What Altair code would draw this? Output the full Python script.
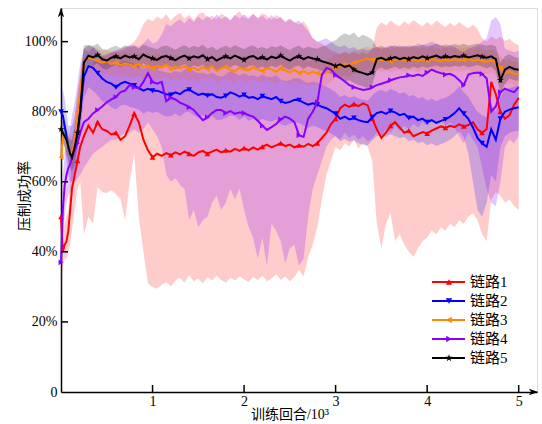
import altair as alt
import pandas as pd

# ---------------- data (training episodes in thousands, success rate in %) ----------------
X_EARLY = [0, 0.02, 0.04, 0.06, 0.08, 0.10, 0.12, 0.15, 0.18, 0.21, 0.25]
X_MAIN = [round(0.30 + 0.05 * i, 2) for i in range(95)]
EPISODES = X_EARLY + X_MAIN

NAMES = ["链路1", "链路2", "链路3", "链路4", "链路5"]

RED_MEAN = [50, 40, 42, 43, 46, 52, 58, 62, 66, 70, 73,
            76, 74, 77, 75, 74.5, 73.5, 74, 72, 73, 76,
            79.5, 77, 72, 69, 67, 68, 67.4, 68.2, 67.6, 68.4,
            67.8, 68.6, 68, 67.4, 68.4, 68.8, 68, 68.6, 69.2, 68.4,
            69, 68.6, 69.4, 68.8, 69.6, 69, 69.8, 69.2, 70, 70.6,
            69.8, 70.4, 71, 70.2, 70.6, 69.8, 70.4, 70, 70.8, 70.2,
            71, 72.5, 74, 76.5, 78, 81, 82, 81.4, 82.2, 81.6,
            82.4, 81.8, 78, 75, 72.5, 74, 76, 77, 75.5, 74,
            74.6, 73, 73.6, 74.2, 73.8, 74.6, 75.2, 75.8, 75.4, 76,
            75.6, 76.4, 75.8, 76.2, 77, 75, 74, 75, 88.5, 85,
            80, 78, 79, 82, 84]
RED_LO = [25, 36, 38, 38, 40, 42, 46, 52, 58, 60, 45,
          50, 48, 58.5, 57, 56.8, 57.6, 56.5, 55, 49, 60,
          68, 50, 40, 31, 30, 29.5, 30.6, 31.4, 30.2, 31.8,
          32.6, 31.2, 33.4, 31.6, 32.4, 31, 32.8, 31.8, 33.2, 32,
          31.2, 32.6, 31.8, 33, 32.2, 31.4, 32.8, 32, 33.2, 31.6,
          32.4, 33.6, 32, 33, 31.6, 32.8, 34.8, 33, 38.5, 42,
          47, 55, 62, 66, 70, 69, 71, 70, 72, 69.5,
          71, 70, 66, 48, 41, 48, 51, 43, 45, 42,
          40, 38.5, 41, 43, 44, 46, 45, 47, 46, 48,
          47, 49, 48, 50, 51, 49, 45, 43, 55, 57,
          56, 54, 55, 53, 52]
RED_HI = [55, 46, 48, 50, 52, 60, 66, 72, 78, 84, 90,
          92, 94, 95, 96, 96, 97, 97, 97.5, 98, 99,
          100, 102, 105, 106.5, 105.8, 107.2, 106.4, 107.8, 106, 107.4,
          108.2, 106.6, 107.6, 106.2, 107.8, 108.4, 106.8, 107.4, 106.4, 108,
          107.2, 106.2, 107.6, 108.6, 107, 106.4, 107.8, 106.8, 108.2, 107.4,
          106.2, 107.6, 106.8, 105.4, 106.4, 105.6, 104.8, 105.8, 104, 101,
          100, 99.5, 98.5, 97.5, 97, 96.5, 97, 96.5, 97, 96.5,
          97, 96.5, 98, 104, 105.5, 104.6, 106, 105, 104.4, 105.8,
          104.8, 106.2, 105.2, 104.4, 105.6, 104.6, 106, 105, 104.2, 105.4,
          104.4, 105.6, 104.6, 103.8, 104.8, 103.6, 101, 100, 101.6, 100.6,
          101.4, 100.2, 100.8, 99.6, 99]

BLUE_MEAN = [80, 79, 76, 73, 70, 68, 67, 70, 74, 80, 90,
             93, 92.5, 91, 89.5, 88.5, 88, 87, 88, 88.5, 88,
             87.5, 86.7, 86, 86.5, 86, 86, 85.5, 85, 84.8, 85.5,
             85, 86, 86.3, 85.5, 84.8, 85.2, 84.6, 85, 84.2, 84,
             84.5, 85.5, 85, 84.3, 84.8, 84, 84.2, 83.6, 84.4, 84,
             83.6, 84.2, 83, 82.5, 82.8, 83.4, 83.3, 82.6, 82, 82.4,
             82, 81.4, 81, 80.2, 79.4, 78, 78.6, 77.8, 78.2, 77.6,
             77.2, 77, 78.4, 79.6, 80, 79.4, 80.2, 79.8, 79, 79.4,
             78.2, 78.6, 77.6, 78, 77, 77.6, 76.8, 77.4, 77.8, 78.6,
             79.6, 81, 79.4, 78, 75.5, 72.5, 71, 70, 75, 72,
             78, 80, 80.6, 81, 81.3]
BLUE_LO = [74, 72, 70, 66, 62, 60, 60, 63, 68, 74, 84,
           87.0, 86.0, 84.6, 83.0, 82.4, 81.2, 80.6, 81.8, 82.0, 81.4,
           81.0, 80.6, 79.4, 80.2, 79.6, 80.0, 79.2, 78.6, 78.8, 79.4,
           78.6, 79.8, 80.0, 79.0, 78.4, 79.0, 78.0, 78.8, 77.6, 77.8,
           78.2, 79.0, 78.8, 77.6, 78.6, 77.4, 78.0, 77.0, 78.0, 77.4,
           77.2, 77.8, 76.4, 76.0, 76.6, 77.0, 76.8, 76.0, 75.4, 76.0,
           75.6, 75.0, 74.4, 73.8, 73.0, 71.6, 72.2, 71.4, 71.8, 71.0,
           70.6, 70.4, 71.8, 73.0, 73.4, 72.8, 73.6, 73.0, 72.4, 72.8,
           71.6, 72.0, 71.0, 71.4, 70.4, 71.0, 70.2, 70.8, 71.2, 72.0,
           73.0, 74.4, 72.8, 68.0, 60.0, 52.0, 50.0, 54.0, 62.0, 60.0,
           70.0, 73.0, 74.0, 74.4, 74.6]
BLUE_HI = [86, 86, 84, 80, 76, 76, 76, 79, 85, 90, 98,
           99.0, 98.4, 97.0, 95.6, 94.6, 94.0, 93.2, 94.0, 94.6, 94.0,
           93.6, 92.8, 92.2, 92.8, 92.2, 92.0, 91.6, 91.2, 91.0, 91.6,
           91.2, 92.0, 92.4, 91.6, 91.0, 91.2, 90.6, 91.2, 90.4, 90.0,
           90.6, 91.6, 91.0, 90.4, 91.0, 90.2, 90.4, 89.8, 90.6, 90.0,
           89.8, 90.4, 89.2, 88.8, 89.0, 89.6, 89.6, 88.8, 88.2, 88.6,
           88.2, 87.6, 87.2, 86.4, 85.6, 84.2, 84.8, 84.0, 84.4, 83.8,
           83.4, 83.2, 84.6, 85.8, 86.2, 85.6, 86.4, 86.0, 85.2, 85.6,
           84.4, 84.8, 83.8, 84.2, 83.2, 83.8, 83.0, 83.6, 84.0, 84.8,
           85.8, 87.2, 85.6, 84.2, 82.0, 80.0, 79.0, 78.4, 82.0, 80.0,
           84.2, 86.2, 86.8, 87.2, 87.4]

ORANGE_MEAN = [67, 73, 73, 72, 70, 68, 68, 72, 80, 86, 94,
               95.5, 95.0, 94.6, 94.0, 94.4, 93.6, 94.0, 93.2, 93.8, 93.4,
               93.0, 93.6, 92.8, 93.2, 92.4, 93.0, 92.6, 93.4, 92.2, 92.8,
               92.4, 93.0, 92.0, 92.6, 91.8, 92.8, 92.2, 93.0, 91.6, 92.4,
               92.8, 92.0, 91.4, 92.6, 92.2, 91.8, 92.8, 92.0, 91.6, 92.4,
               92.0, 91.4, 92.4, 91.8, 91.2, 92.0, 91.0, 91.6, 90.8, 91.4,
               91.0, 90.6, 91.2, 92.0, 92.8, 93.2, 93.8, 93.4, 94.0, 94.4,
               94.8, 95.2, 94.8, 95.0, 94.6, 95.0, 94.4, 94.8, 95.0, 94.6,
               94.8, 95.0, 94.5, 94.9, 94.6, 95.1, 94.7, 94.4, 94.9, 94.6,
               95.0, 94.6, 94.8, 95.1, 94.5, 94.9, 94.6, 94.2, 94.6, 94.0,
               92.5, 91.0, 91.5, 90.8, 90.6]
ORANGE_LO = [62, 68, 68, 67, 65, 63, 63, 66, 74, 80, 90,
             92.0, 91.6, 91.2, 90.8, 91.0, 90.2, 90.8, 89.8, 90.6, 90.0,
             89.6, 90.4, 89.4, 90.0, 89.0, 89.8, 89.2, 90.2, 88.8, 89.6,
             89.0, 89.8, 88.6, 89.4, 88.4, 89.6, 88.8, 89.8, 88.2, 89.0,
             89.6, 88.6, 88.0, 89.4, 88.8, 88.4, 89.6, 88.6, 88.2, 89.0,
             88.6, 88.0, 89.2, 88.4, 87.8, 88.6, 87.6, 88.2, 87.4, 88.0,
             87.6, 87.2, 87.8, 88.6, 89.4, 89.8, 90.4, 90.0, 90.8, 91.2,
             91.6, 92.0, 91.6, 91.8, 91.4, 91.8, 91.2, 91.6, 91.8, 91.4,
             91.6, 91.8, 91.2, 91.7, 91.4, 91.9, 91.5, 91.2, 91.7, 91.4,
             91.8, 91.4, 91.6, 91.9, 91.2, 91.7, 91.3, 90.8, 91.2, 90.4,
             88.5, 87.6, 88.2, 87.4, 87.2]
ORANGE_HI = [72, 78, 77, 76, 75, 73, 73, 78, 86, 92, 98,
             99.0, 98.6, 98.0, 97.4, 97.8, 97.0, 97.4, 96.6, 97.2, 96.8,
             96.4, 97.0, 96.2, 96.8, 95.8, 96.6, 96.0, 96.9, 95.6, 96.2,
             95.8, 96.4, 95.4, 96.0, 95.2, 96.2, 95.6, 96.4, 95.0, 95.8,
             96.2, 95.4, 94.8, 96.0, 95.6, 95.2, 96.2, 95.4, 95.0, 95.8,
             95.4, 94.8, 95.8, 95.2, 94.6, 95.4, 94.4, 95.0, 94.2, 94.8,
             94.4, 94.0, 94.6, 95.4, 96.2, 96.6, 97.2, 96.8, 97.4, 97.8,
             98.2, 98.6, 98.2, 98.4, 98.0, 98.4, 97.8, 98.2, 98.4, 98.0,
             98.2, 98.4, 97.8, 98.3, 98.0, 98.5, 98.1, 97.8, 98.3, 98.0,
             98.4, 98.0, 98.2, 98.5, 97.8, 98.3, 97.9, 97.4, 97.8, 97.2,
             96.0, 94.6, 95.0, 94.2, 94.0]

PURPLE_MEAN = [37, 52, 59, 62, 64, 65, 67, 69, 71, 74, 77,
               78, 79.5, 80.5, 81.5, 82.7, 83.5, 84.2, 85.6, 86, 87.6,
               87, 86.6, 88.5, 91, 88.5, 88, 88.5, 83, 84, 83.5,
               82.6, 82, 81.3, 80.5, 79, 77.6, 78.4, 79.6, 80.5, 80.5,
               79.6, 80.2, 79.4, 79.8, 79.6, 79, 78.6, 77.4, 76, 74.8,
               75.6, 76.5, 77.8, 78.6, 78, 77, 73.3, 72.8, 78, 80,
               82.7, 90.5, 92.5, 92, 90.5, 89.6, 88.6, 87.6, 87, 86.6,
               86.2, 86.4, 87, 87.6, 88, 88.4, 89, 89.4, 89.8, 90,
               90.4, 90.2, 90.6, 90.2, 91.2, 92, 91.4, 91, 90.6, 90.8,
               90.2, 89, 87.6, 90.6, 91, 91.2, 90.8, 89.5, 80, 81.5,
               85.6, 86.6, 86, 85.6, 87]
PURPLE_LO = [25, 42, 50, 54, 56, 57, 58, 60, 61, 62, 64,
             66, 68, 69, 70, 71, 72, 72, 73, 74, 74,
             75, 74, 75, 77, 75, 73, 70, 62, 60, 61,
             59, 58, 49, 52, 47, 49, 50, 54, 56, 52,
             54, 58, 55, 58, 52, 47, 44, 38, 44, 36,
             48, 46, 43, 36.7, 41, 42, 36, 38, 50, 58,
             62, 66, 70, 72, 73, 72, 74, 72.5, 73.5, 72,
             73, 71.5, 72.5, 74, 73, 75, 74, 76, 74.5, 76,
             75, 76.5, 75.5, 77, 76, 77.5, 76.5, 78, 76, 77,
             75.5, 73, 71, 74, 72, 70, 64, 58, 54, 53,
             60, 70, 72, 71, 73]
PURPLE_HI = [50, 62, 68, 70, 72, 75, 79, 83, 88, 94, 98,
             97, 98.5, 97.5, 96, 96.5, 97, 97.5, 98, 98.5, 99,
             99, 98.5, 99.5, 101, 99.5, 100, 102, 105, 104.4, 105.6,
             106.4, 105.2, 106.8, 105.6, 107.2, 106, 107.4, 106.2, 107.8, 106.4,
             107.2, 106, 107.6, 106.6, 107.8, 106.8, 108, 106.6, 107.4, 106.2,
             107.6, 106.4, 107, 105.8, 106.6, 105.4, 106, 104.6, 103, 101,
             100, 100.5, 101, 100, 99, 98.5, 99, 98, 98.5, 97.5,
             98, 97.5, 98, 98.5, 98, 98.5, 99, 98.5, 99, 98.5,
             99, 98.5, 99.5, 99, 99.5, 100, 99.5, 99, 98.5, 99,
             98.5, 97.5, 97, 98, 98.5, 99, 100, 101, 106, 107,
             105, 98, 97.5, 97, 97.5]

BLACK_MEAN = [75, 74, 73, 72, 70, 68, 67, 70, 74, 80, 94,
              96.0, 95.5, 96.2, 95.0, 94.6, 95.4, 95.8, 95.2, 96.0, 95.5,
              95.8, 95.0, 96.3, 95.6, 95.2, 94.8, 95.6, 95.9, 95.3, 94.7,
              95.5, 96.0, 95.2, 95.8, 95.4, 96.1, 95.0, 95.6, 94.6, 95.3,
              95.8, 95.2, 96.0, 95.4, 94.8, 95.6, 95.9, 95.1, 95.5, 94.9,
              95.7, 95.3, 96.0, 95.2, 94.6, 95.4, 95.8, 95.0, 95.6, 95.2,
              95.0, 94.4, 94.0, 93.6, 93.0, 93.5, 92.8, 93.2, 92.0, 91.4,
              91.0, 90.6, 91.2, 95.0, 95.4, 94.8, 95.2, 95.6, 95.0, 95.4,
              95.0, 95.6, 95.2, 95.8, 95.3, 95.6, 96.0, 95.4, 95.8, 95.5,
              95.9, 95.6, 96.0, 95.5, 95.8, 96.1, 95.7, 95.4, 95.8, 95.0,
              89.0, 92.0, 92.8, 92.2, 92.0]
BLACK_LO = [72, 71, 70, 68, 66, 64, 63, 65, 70, 76, 90,
            93.0, 93.2, 93.8, 92.4, 92.0, 92.8, 93.4, 92.6, 93.5, 92.9,
            93.2, 92.4, 93.8, 93.0, 92.6, 92.0, 93.1, 93.4, 92.8, 92.0,
            93.0, 93.6, 92.5, 93.2, 92.8, 93.5, 92.2, 93.0, 91.8, 92.6,
            93.2, 92.6, 93.4, 92.8, 92.0, 93.0, 93.3, 92.4, 92.9, 92.2,
            93.1, 92.6, 93.4, 92.5, 91.9, 92.8, 93.2, 92.2, 93.0, 92.5,
            92.2, 91.6, 91.2, 90.8, 90.0, 89.4, 88.6, 89.0, 88.2, 87.6,
            87.2, 86.8, 87.6, 92.0, 92.6, 92.0, 92.4, 92.8, 92.2, 92.6,
            92.2, 92.8, 92.4, 93.0, 92.5, 92.8, 93.2, 92.6, 93.0, 92.7,
            93.1, 92.8, 93.2, 92.7, 93.0, 93.3, 92.9, 92.4, 92.8, 91.6,
            85.0, 88.0, 89.5, 89.0, 88.8]
BLACK_HI = [78, 77, 76, 75, 73, 72, 72, 76, 80, 88, 99,
            99.0, 98.8, 99.4, 98.0, 97.6, 98.4, 98.8, 98.2, 99.0, 98.4,
            98.8, 98.0, 99.2, 98.6, 98.2, 97.8, 98.6, 98.9, 98.3, 97.7,
            98.5, 99.0, 98.2, 98.8, 98.4, 99.1, 98.0, 98.6, 97.6, 98.3,
            98.8, 98.2, 99.0, 98.4, 97.8, 98.6, 98.9, 98.1, 98.5, 97.9,
            98.7, 98.3, 99.0, 98.2, 97.6, 98.4, 98.8, 98.0, 98.6, 98.2,
            98.0, 98.6, 99.0, 99.8, 100.4, 101.6, 102.4, 101.8, 102.6, 101.2,
            102.0, 101.4, 100.6, 98.4, 98.8, 98.2, 98.6, 99.0, 98.4, 98.8,
            98.4, 99.0, 98.6, 99.2, 98.7, 99.0, 99.4, 98.8, 99.2, 98.9,
            99.3, 99.0, 99.4, 98.9, 99.2, 99.5, 99.1, 98.8, 99.2, 98.6,
            94.0, 95.8, 96.4, 95.6, 95.4]

X_TICKS = [1, 2, 3, 4, 5]
Y_TICKS = [20, 40, 60, 80, 100]

# ---------------- styling ----------------
FONT = "'Liberation Serif', 'Times New Roman', 'Noto Sans CJK SC', serif"
COLORS = ["#ff0000", "#0000ff", "#ff8800", "#8800ff", "#000000"]
STAR = ("M0,-1L0.2245,-0.309L0.9511,-0.309L0.3633,0.118L0.5878,0.809L0,0.382"
        "L-0.5878,0.809L-0.3633,0.118L-0.9511,-0.309L-0.2245,-0.309Z")
SHAPES = ["triangle-up", "triangle-down", "triangle-left", "triangle-right", STAR]
MSIZE = [32, 32, 32, 32, 50]
BAND_OP = [0.2, 0.2, 0.2, 0.22, 0.2]
MARK_IDX = set([0, 8] + [13 + 4 * k for k in range(23)])

W, H = 476, 384
XS = alt.Scale(domain=[0, 5.2], nice=False, zero=False)
YS = alt.Scale(domain=[0, 109.6], nice=False, zero=False)
XAX = alt.Axis(values=X_TICKS, format="d", title=None, grid=False, ticks=False,
               labelPadding=2, labelFont=FONT, labelFontSize=14, labelColor="black",
               domainColor="black", domainWidth=1.5)
YAX = alt.Axis(values=[0] + Y_TICKS, title=None, grid=False, ticks=False,
               labelExpr="datum.value == 0 ? '0' : datum.value + '%'",
               labelPadding=4, labelFont=FONT, labelFontSize=14, labelColor="black",
               domainColor="black", domainWidth=1.5)

series = [
    (RED_MEAN, RED_LO, RED_HI),
    (BLUE_MEAN, BLUE_LO, BLUE_HI),
    (ORANGE_MEAN, ORANGE_LO, ORANGE_HI),
    (PURPLE_MEAN, PURPLE_LO, PURPLE_HI),
    (BLACK_MEAN, BLACK_LO, BLACK_HI),
]

frames = []
for k, (m, lo, hi) in enumerate(series):
    assert len(m) == len(lo) == len(hi) == len(EPISODES), k
    frames.append(pd.DataFrame({
        "x": EPISODES, "m": m, "lo": lo, "hi": hi,
        "mk": [i in MARK_IDX for i in range(len(EPISODES))],
    }))

def xenc():
    return alt.X("x:Q", scale=XS, axis=XAX)

layers = []
for k, df in enumerate(frames):
    layers.append(alt.Chart(df).mark_area(color=COLORS[k], opacity=BAND_OP[k]).encode(
        x=xenc(), y=alt.Y("lo:Q", scale=YS, axis=YAX), y2="hi:Q"))
for k, df in enumerate(frames):
    layers.append(alt.Chart(df).mark_line(color=COLORS[k], strokeWidth=2).encode(
        x=xenc(), y=alt.Y("m:Q", scale=YS, axis=YAX)))
    layers.append(alt.Chart(df).transform_filter("datum.mk").mark_point(
        shape=SHAPES[k], filled=True, color=COLORS[k], size=MSIZE[k], opacity=1).encode(
        x=xenc(), y=alt.Y("m:Q", scale=YS, axis=YAX)))

# inward tick marks
ytick_df = pd.DataFrame({"m": Y_TICKS})
xtick_df = pd.DataFrame({"x": X_TICKS})
layers.append(alt.Chart(ytick_df).mark_rule(color="black", strokeWidth=1.5).encode(
    y=alt.Y("m:Q", scale=YS, axis=YAX), x=alt.value(0), x2=alt.value(7)))
layers.append(alt.Chart(xtick_df).mark_rule(color="black", strokeWidth=1.5).encode(
    x=xenc(), y=alt.value(H), y2=alt.value(H - 7)))

one = pd.DataFrame({"a": [0]})
UP = "M0,-1L0.6,0.8L0,0.35L-0.6,0.8Z"
RIGHT = "M1,0L-0.8,0.6L-0.35,0L-0.8,-0.6Z"
layers.append(alt.Chart(one).mark_point(shape=UP, filled=True, color="black", size=110, opacity=1).encode(
    x=alt.value(0), y=alt.value(5)))
layers.append(alt.Chart(one).mark_point(shape=RIGHT, filled=True, color="black", size=110, opacity=1).encode(
    x=alt.value(W - 4), y=alt.value(H)))

# legend (manual, lines with markers)
LEG_Y = [274, 293, 312, 331, 350]
for k in range(5):
    layers.append(alt.Chart(one).mark_rule(color=COLORS[k], strokeWidth=2).encode(
        x=alt.value(371), x2=alt.value(404), y=alt.value(LEG_Y[k])))
    layers.append(alt.Chart(one).mark_point(shape=SHAPES[k], filled=True, color=COLORS[k],
                                            size=MSIZE[k] + 10, opacity=1).encode(
        x=alt.value(388), y=alt.value(LEG_Y[k])))
    layers.append(alt.Chart(one).mark_text(text=NAMES[k], align="left", baseline="middle",
                                           font=FONT, fontSize=15, color="black").encode(
        x=alt.value(409), y=alt.value(LEG_Y[k])))

# axis titles
layers.append(alt.Chart(one).mark_text(text="压制成功率", angle=270, align="center", baseline="middle",
                                       font=FONT, fontSize=14, color="black").encode(
    x=alt.value(-36), y=alt.value(188)))
layers.append(alt.Chart(one).mark_text(text="训练回合/10³", align="center", baseline="middle",
                                       font=FONT, fontSize=14, color="black").encode(
    x=alt.value(229), y=alt.value(407)))

chart = alt.layer(*layers).properties(
    width=W, height=H,
    autosize=alt.AutoSizeParams(type="none"),
    padding={"left": 61, "top": 8, "right": 5, "bottom": 32},
).configure_view(stroke=None).configure(background="white")

chart.save("out.html", embed_options={"renderer": "svg", "actions": False})
